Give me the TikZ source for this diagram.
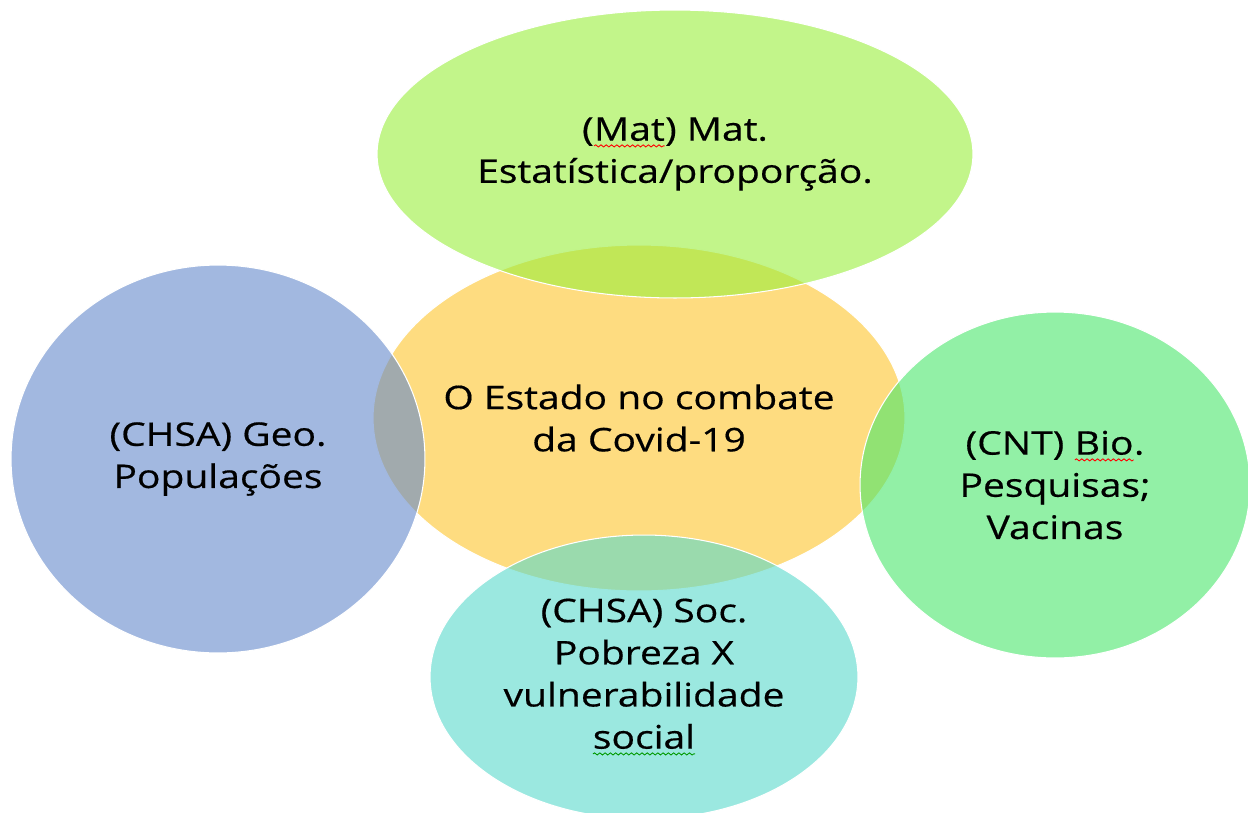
\documentclass[tikz,border=0pt]{standalone}
\usepackage{fontspec}
\setmainfont[FakeStretch=1.2,FakeBold=0.5]{Open Sans}
\usetikzlibrary{shapes.geometric,decorations.pathmorphing}

\definecolor{ylw}{RGB}{253,197,43}
\definecolor{limeg}{RGB}{153,238,60}
\definecolor{blu}{RGB}{100,137,203}
\definecolor{grn}{RGB}{73,230,107}
\definecolor{tealg}{RGB}{88,217,203}

% spell-check squiggle under a word
\newcommand{\wavy}[2]{\tikz[baseline=(wv.base)]{\node[shape=rectangle,inner sep=0pt,outer sep=0pt,minimum size=0pt,draw=none,fill=none](wv){#2};
  \draw[#1,line width=0.5pt,decorate,decoration={snake,amplitude=0.6pt,segment length=3pt}] ([yshift=-3pt]wv.base west) -- ([yshift=-3pt]wv.base east);}}

\tikzset{
  bubble/.style={ellipse, draw=white, line width=0.6pt, fill opacity=0.6, text opacity=1,
    inner sep=-0.5cm, align=center, font=\fontsize{18.5}{24}\selectfont},
}

\begin{document}
\begin{tikzpicture}[x=0.02cm,y=-0.02cm]
   \useasboundingbox (0,0) rectangle (1248,812);
   \begin{scope}
    \clip (0,0) rectangle (1248,812);
    % centre
    \node[bubble, fill=ylw, minimum width=10.64cm, minimum height=6.92cm] (estado) at (639,418) {O Estado no combate\\da Covid-19};
    % around it
    \node[bubble, fill=limeg, minimum width=11.92cm, minimum height=5.76cm] (mat) at (675,154) {(\wavy{red}{Mat}) Mat.\\Estatística/proporção.};
    \node[bubble, fill=blu, minimum width=8.28cm, minimum height=7.76cm] (geo) at (218,459) {(CHSA) Geo.\\Populações};
    \node[bubble, fill=grn, minimum width=7.8cm, minimum height=6.92cm] (bio) at (1055,485) {(CNT) \wavy{red}{Bio}.\\Pesquisas;\\Vacinas};
    \node[bubble, fill=tealg, minimum width=8.56cm, minimum height=5.68cm] (soc) at (644,677) {(CHSA) Soc.\\Pobreza X\\vulnerabilidade\\\wavy{green!60!black}{social}};
   \end{scope}
\end{tikzpicture}
\end{document}
